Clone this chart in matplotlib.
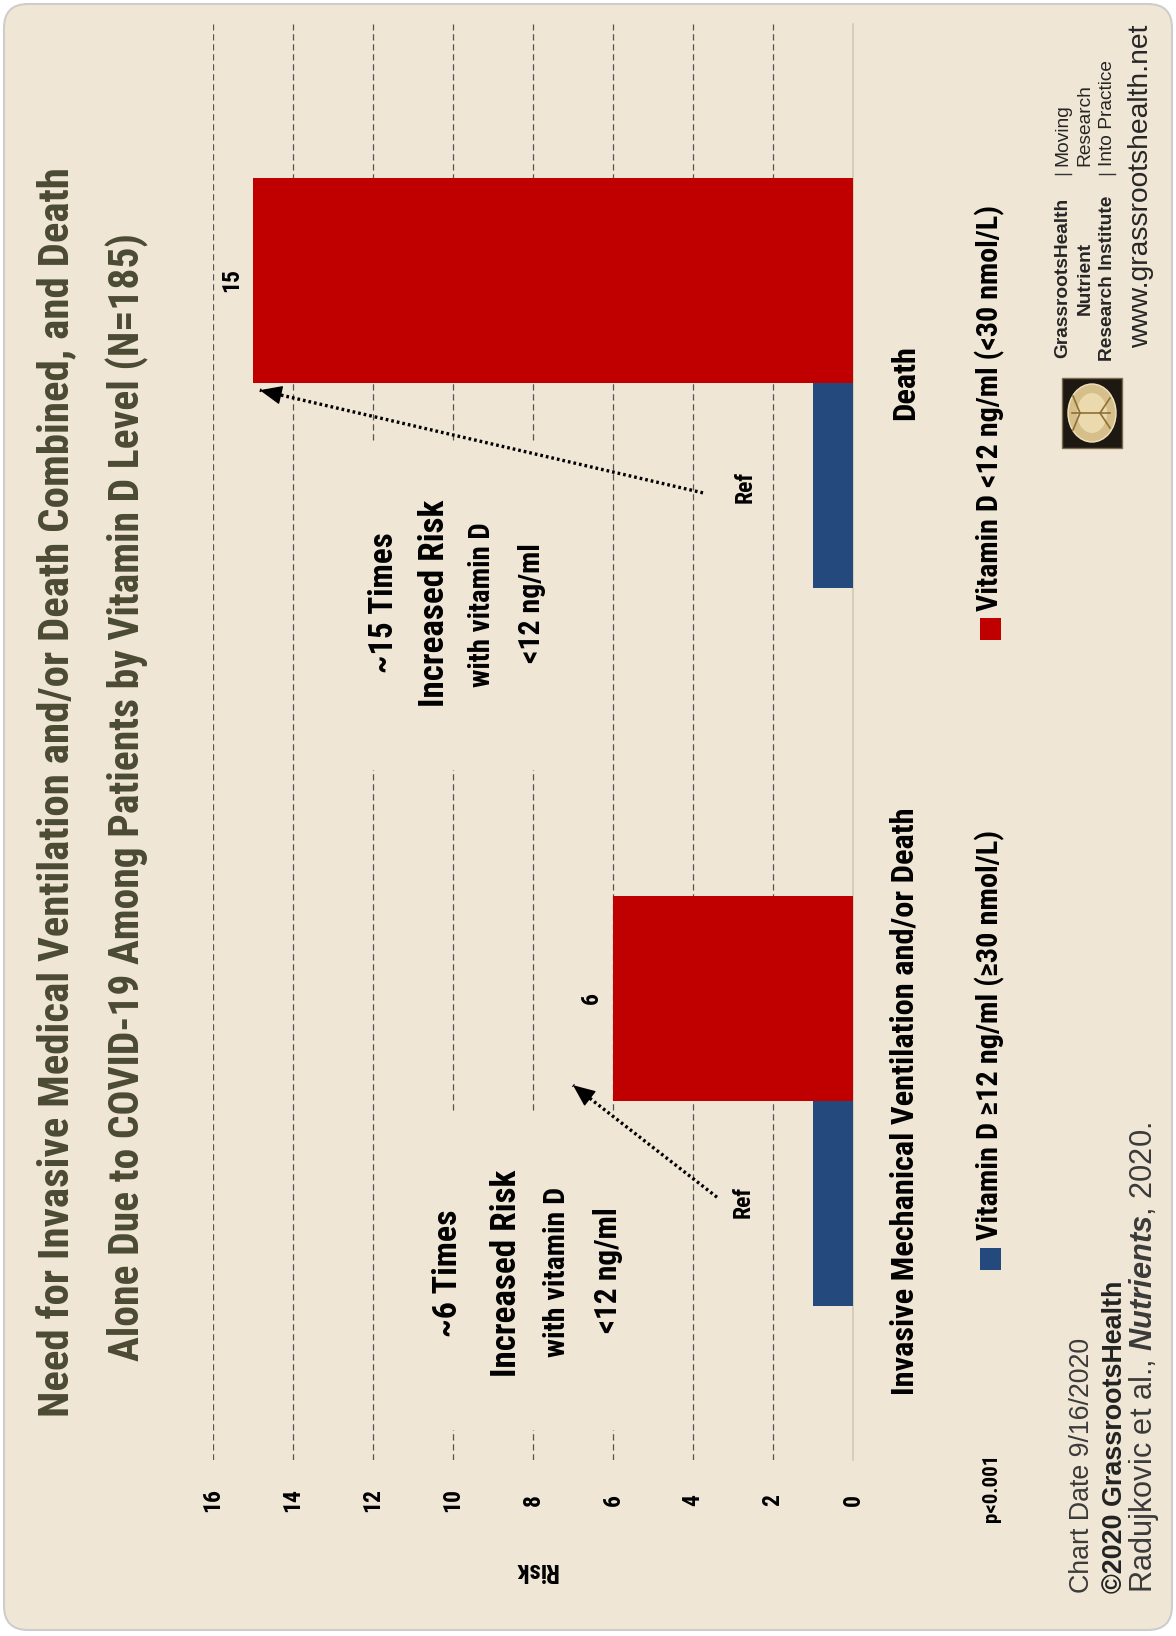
import matplotlib
matplotlib.use("Agg")
import matplotlib.pyplot as plt
from matplotlib import font_manager as fm
from matplotlib.patches import FancyBboxPatch, Rectangle, Ellipse
from matplotlib.lines import Line2D
from matplotlib.transforms import IdentityTransform
import numpy as np

W, H = 1176, 1636

# data
outcomes = ["Invasive Mechanical Ventilation and/or Death", "Death"]
risk_ref = [1, 1]     # vitamin D >=12 ng/ml, reference group
risk_low = [6, 15]    # vitamin D <12 ng/ml
risk_ticks = [0, 2, 4, 6, 8, 10, 12, 14, 16]
group_labels = ["Vitamin D \u226512 ng/ml (\u226530 nmol/L)", "Vitamin D <12 ng/ml (<30 nmol/L)"]
times_labels = ["~6 Times", "~15 Times"]

BG = "#EFE6D6"
RED = "#C00000"
BLUE = "#23497D"
OLIVE = "#4B4A33"

# pick a narrow/condensed face if one is installed
narrow_stretch = ("condensed", "semi-condensed", "extra-condensed", "ultra-condensed")
found = {}
for f in fm.fontManager.ttflist:
    if f.stretch in narrow_stretch or "Narrow" in f.name or "Condensed" in f.name:
        found.setdefault(f.name, []).append(f.weight)
prefer = ["Liberation Sans Narrow", "Roboto Condensed", "Open Sans Condensed", "Noto Sans Condensed",
          "DejaVu Sans Condensed", "Noto Sans", "DejaVu Sans", "Roboto", "Open Sans"]
cond_name = next((n for n in prefer if n in found), None)
if cond_name is None and found:
    cond_name = sorted(found)[0]
COND = [cond_name, "DejaVu Sans"] if cond_name else ["DejaVu Sans"]
SANS = ["Liberation Sans", "DejaVu Sans"]

plt.rcParams["font.family"] = COND
plt.rcParams["font.weight"] = "bold"
plt.rcParams["font.stretch"] = "condensed"
plt.rcParams["mathtext.fontset"] = "custom"
plt.rcParams["mathtext.rm"] = "Liberation Sans"
plt.rcParams["mathtext.it"] = "Liberation Sans:italic"

fig = plt.figure(figsize=(W / 100, H / 100), dpi=100)
fig.patch.set_facecolor("white")
rend = fig.canvas.get_renderer()
pix = IdentityTransform()


def flip(y):
    return H - y


def put(x, y, s, length, rot=90, ha="center", **kw):
    # text placed in pixel coords (top-left origin), scaled to a given run length
    t = fig.text(x / W, 1 - y / H, s, rotation=rot, rotation_mode="anchor",
                 ha=ha, va="center", fontsize=20, **kw)
    bb = t.get_window_extent(rend)
    span = bb.height if rot % 180 else bb.width
    t.set_fontsize(20 * length / span)
    return t


def size_for(s, length, **kw):
    t = fig.text(0, 0, s, fontsize=20, **kw)
    w = t.get_window_extent(rend).width
    t.remove()
    return 20 * length / w


# card
card = FancyBboxPatch((4, flip(1630)), 1168, 1626, boxstyle="round,pad=0,rounding_size=24",
                      transform=pix, facecolor=BG, edgecolor="#cdcdcd", lw=1.5, zorder=-10)
fig.add_artist(card)

# ---------------- chart ----------------
ax = fig.add_axes([213 / W, 1 - 1460 / H, 640 / W, 1436 / H])
ax.set_facecolor("none")
for sp in ax.spines.values():
    sp.set_visible(False)

y = np.arange(len(outcomes))
bh = 0.286
ax.barh(y - bh / 2, risk_ref, height=bh, color=BLUE, zorder=3)
ax.barh(y + bh / 2, risk_low, height=bh, color=RED, zorder=3)
ax.set_xlim(16, 0)
ax.set_ylim(-0.5, 1.5)

for v in risk_ticks[1:]:
    ax.axvline(v, color="#555555", lw=0.9, ls=(0, (5, 3)), zorder=1)
ax.axvline(0, color="#d3c9b6", lw=1.2, zorder=1, clip_on=False)

tick_fs = 17
ax.set_xticks(risk_ticks, [str(v) for v in risk_ticks], rotation=90, va="center", fontsize=tick_fs)
ax.tick_params(axis="x", length=0, pad=40 / 1.389)

cat_fs = size_for(outcomes[0], 586)
ax.yaxis.tick_right()
ax.set_yticks(y, outcomes, rotation=90, ha="center", va="center", fontsize=cat_fs)
ax.tick_params(axis="y", length=0, pad=52 / 1.389)

# value labels on the red bars
for yi, v in zip(y, risk_low):
    ax.text(v + 0.25, yi + bh / 2, str(v), rotation=90, rotation_mode="anchor",
            ha="center", va="bottom", fontsize=tick_fs, zorder=5)

# blank out gridlines behind the callout text
ax.add_patch(Rectangle((355, flip(770)), 205, 327, transform=pix, facecolor=BG, edgecolor="none", zorder=1.5))
ax.add_patch(Rectangle((420, flip(1430)), 220, 317, transform=pix, facecolor=BG, edgecolor="none", zorder=1.5))

# Ref arrows: dotted shaft plus a filled head
ref_arrows = [((3.75, 0.847), (14.83, 0.99)), ((3.4, -0.134), (7.0, 0.022))]
for (x0, y0), (x1, y1) in ref_arrows:
    ax.plot([x0, x1], [y0, y1], color="black", lw=2.4, ls=(0, (0.8, 0.9)), zorder=4)
    ax.annotate("", xy=(x1, y1), xytext=(x1 + (x0 - x1) * 0.05, y1 + (y0 - y1) * 0.05),
                arrowprops=dict(arrowstyle="-|>,head_length=0.7,head_width=0.3", color="black",
                                lw=1, shrinkA=0, shrinkB=0, mutation_scale=20), zorder=4)
ax.text(2.7, 0.855, "Ref", rotation=90, rotation_mode="anchor", ha="center", va="center",
        fontsize=17, zorder=5)
ax.text(2.75, -0.14, "Ref", rotation=90, rotation_mode="anchor", ha="center", va="center",
        fontsize=17, zorder=5)

# ---------------- title ----------------
put(58, 792, "Need for Invasive Medical Ventilation and/or Death Combined, and Death", 1249, color=OLIVE)
put(127, 797, "Alone Due to COVID-19 Among Patients by Vitamin D Level (N=185)", 1125, color=OLIVE)

# axis label and p value
fig.text(536 / W, 1 - 1570 / H, "Risk", rotation=180, rotation_mode="anchor", ha="center", va="center", fontsize=18)
fig.text(992 / W, 1 - 1488 / H, "p<0.001", rotation=90, rotation_mode="anchor", ha="center", va="center", fontsize=15)

# callouts
put(384, 603, times_labels[1], 140)
put(435, 603, "Increased Risk", 207)
put(482, 605, "with vitamin D", 164)
put(532, 603, "<12 ng/ml", 120)

put(448, 1273, times_labels[0], 127)
put(507, 1273, "Increased Risk", 207)
put(557, 1272, "with vitamin D", 170)
put(608, 1270, "<12 ng/ml", 126)

# legend
for (cy, start, length), lab, col in zip([(1259, 1240, 410), (629, 611, 406)], group_labels, [BLUE, RED]):
    fig.add_artist(Rectangle((980, flip(cy + 11)), 21, 22, transform=pix, facecolor=col, edgecolor="none"))
    put(990, start, lab, length, ha="left")

# footer
put(1082, 1593, "Chart Date 9/16/2020", 256, ha="left", family=SANS, stretch="normal",
    weight="normal", color="#3a3a3a")
put(1115, 1593, "\u00a92020 GrassrootsHealth", 313, ha="left", family=SANS, stretch="normal",
    weight="bold", color="#222222")
put(1144, 1593, r"Radujkovic et al., $\it{Nutrients}$, 2020.", 470, ha="left", family=SANS,
    stretch="normal", weight="normal", color="#3a3a3a")

# logo block
fig.add_artist(Rectangle((1062, flip(448)), 60, 70, transform=pix, facecolor="#1e1812", edgecolor="#7a6a4a", lw=1))
fig.add_artist(Ellipse((1092, flip(413)), 48, 58, transform=pix, facecolor="#d6bf8a", edgecolor="#f0e4c0", lw=1))
fig.add_artist(Ellipse((1092, flip(413)), 30, 40, transform=pix, facecolor="#eadaae", edgecolor="none"))
for xs, ys in [([1072, 1110], [413, 413]), ([1080, 1073], [413, 396]), ([1080, 1073], [413, 430]),
               ([1100, 1110], [413, 398]), ([1100, 1110], [413, 428])]:
    fig.add_artist(Line2D(xs, [flip(v) for v in ys], transform=pix, color="#8f6f35", lw=1.2))

logo_kw = dict(family=SANS, stretch="normal", color="#262626")
logo_fs = min(size_for("GrassrootsHealth", 190, weight="bold", **logo_kw), 13.8)
rows = [1063, 1085, 1107]
for xx, s in zip(rows, ["GrassrootsHealth", "Nutrient", "Research Institute"]):
    fig.text(xx / W, 1 - 278 / H, s, rotation=90, rotation_mode="anchor", ha="center", va="center",
             fontsize=logo_fs, weight="bold", **logo_kw)
for xx, s in zip(rows, ["Moving", "Research", "Into Practice"]):
    fig.text(xx / W, 1 - 166 / H, s, rotation=90, rotation_mode="anchor", ha="left", va="center",
             fontsize=logo_fs, weight="normal", **logo_kw)
for xx in (rows[0], rows[2]):
    fig.add_artist(Line2D([xx - 8, xx + 8], [flip(174)] * 2, transform=pix, color="#333333", lw=1))
put(1141, 186, "www.grassrootshealth.net", 322, weight="normal", **logo_kw)

fig.savefig("out.png", dpi=100, facecolor="white")
